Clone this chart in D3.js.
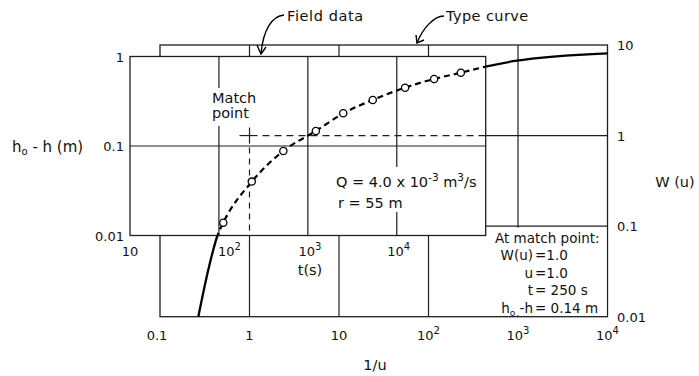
<!DOCTYPE html>
<html>
<head>
<meta charset="utf-8">
<script src="https://cdn.jsdelivr.net/npm/d3@7"></script>
<style>
  body { margin: 0; background: #fff; }
  svg { display: block; font-family: "DejaVu Sans", sans-serif; }
</style>
</head>
<body>
<svg id="chart" width="699" height="376"></svg>
<script>
// Type curve W(u) against 1/u
const typeInvU = [0.268, 0.346, 0.441, 0.509, 1.06, 2.38, 5.48, 11.2, 23.7, 54.5, 115, 228, 434, 922, 10000];
const typeW    = [0.01, 0.0328, 0.0798, 0.109, 0.309, 0.675, 1.12, 1.76, 2.47, 3.38, 4.21, 4.94, 5.76, 6.66, 8.10];

// Field data: drawdown h0-h (m) against time t (s)
const fieldT = [112, 234, 530, 1230, 2500, 5370, 12400, 26300, 52500];
const fieldH = [0.0139, 0.040, 0.088, 0.147, 0.232, 0.327, 0.448, 0.561, 0.659];

// Ticks and labels ([base, superscript])
const typeXTicks  = [0.1, 1, 10, 100, 1000, 10000];
const typeXLabels = [["0.1", ""], ["1", ""], ["10", ""], ["10", "2"], ["10", "3"], ["10", "4"]];
const typeYTicks  = [0.01, 0.1, 1, 10];
const typeYLabels = ["0.01", "0.1", "1", "10"];
const fieldXTicks  = [10, 100, 1000, 10000, 100000];
const fieldXLabels = [["10", ""], ["10", "2"], ["10", "3"], ["10", "4"]];
const fieldYTicks  = [0.01, 0.1, 1];
const fieldYLabels = ["0.01", "0.1", "1"];

// Match point (type curve coords)
const matchInvU = 1, matchW = 1;

const ink = "#1e1e1e";
const svg = d3.select("#chart");

// --- scales ---
const typeX  = d3.scaleLog().domain([0.1, 1e4]).range([160, 607.5]);
const typeY  = d3.scaleLog().domain([0.01, 10]).range([316.7, 45]);
const fieldX = d3.scaleLog().domain([10, 1e5]).range([130, 485.7]);
const fieldY = d3.scaleLog().domain([0.01, 1]).range([235.5, 56.5]);

// --- type curve sheet (behind) ---
const typeG = svg.append("g");
typeG.append("rect")
    .attr("x", typeX(0.1)).attr("y", typeY(10))
    .attr("width", typeX(1e4) - typeX(0.1))
    .attr("height", typeY(0.01) - typeY(10))
    .attr("fill", "#fff").attr("stroke", ink).attr("stroke-width", 1.3);
typeG.selectAll("line.vx").data(typeXTicks.slice(1, -1)).join("line")
    .attr("class", "vx")
    .attr("x1", d => typeX(d)).attr("x2", d => typeX(d))
    .attr("y1", typeY(10)).attr("y2", typeY(0.01))
    .attr("stroke", ink).attr("stroke-width", 1.2);
typeG.selectAll("line.hy").data(typeYTicks.slice(1, -1)).join("line")
    .attr("class", "hy")
    .attr("x1", typeX(0.1)).attr("x2", typeX(1e4))
    .attr("y1", d => typeY(d)).attr("y2", d => typeY(d))
    .attr("stroke", ink).attr("stroke-width", 1.2);

const typePts = typeInvU.map((v, i) => [v, typeW[i]]);
const curveLine = d3.line()
    .x(d => typeX(d[0])).y(d => typeY(d[1]))
    .curve(d3.curveMonotoneX);
typeG.append("path").datum(typePts)
    .attr("d", curveLine)
    .attr("fill", "none").attr("stroke", "#000").attr("stroke-width", 2.3);

// white patch under the match-point note
typeG.append("rect")
    .attr("x", fieldX(1e5) + 2).attr("y", typeY(0.1) + 1.5)
    .attr("width", typeX(1e4) - fieldX(1e5) - 3)
    .attr("height", typeY(0.01) - typeY(0.1) - 3)
    .attr("fill", "#fff");

// --- field data sheet (front) ---
const fieldG = svg.append("g");
fieldG.append("rect")
    .attr("x", fieldX(10)).attr("y", fieldY(1))
    .attr("width", fieldX(1e5) - fieldX(10))
    .attr("height", fieldY(0.01) - fieldY(1))
    .attr("fill", "#fff").attr("stroke", ink).attr("stroke-width", 1.3);
fieldG.selectAll("line.vx").data(fieldXTicks.slice(1, -1)).join("line")
    .attr("class", "vx")
    .attr("x1", d => fieldX(d)).attr("x2", d => fieldX(d))
    .attr("y1", fieldY(1)).attr("y2", fieldY(0.01))
    .attr("stroke", ink).attr("stroke-width", 1.2);
fieldG.selectAll("line.hy").data(fieldYTicks.slice(1, -1)).join("line")
    .attr("class", "hy")
    .attr("x1", fieldX(10)).attr("x2", fieldX(1e5))
    .attr("y1", d => fieldY(d)).attr("y2", d => fieldY(d))
    .attr("stroke", ink).attr("stroke-width", 1.2);

// knock-outs behind the annotations
fieldG.append("rect").attr("x", 208).attr("y", 88).attr("width", 58).attr("height", 38).attr("fill", "#fff");
fieldG.append("rect").attr("x", 330).attr("y", 167).attr("width", 152).attr("height", 45).attr("fill", "#fff");

// match point cross and dashed guides
const mx = typeX(matchInvU), my = typeY(matchW);
fieldG.append("line").attr("x1", mx - 10).attr("x2", mx + 8).attr("y1", my).attr("y2", my)
    .attr("stroke", ink).attr("stroke-width", 1.2);
fieldG.append("line").attr("x1", mx).attr("x2", mx).attr("y1", my - 8).attr("y2", my + 8)
    .attr("stroke", ink).attr("stroke-width", 1.2);
fieldG.append("line").attr("x1", mx + 13).attr("x2", fieldX(1e5)).attr("y1", my).attr("y2", my)
    .attr("stroke", ink).attr("stroke-width", 1.2).attr("stroke-dasharray", "7,5");
fieldG.append("line").attr("x1", mx).attr("x2", mx).attr("y1", my + 12).attr("y2", fieldY(0.01))
    .attr("stroke", ink).attr("stroke-width", 1.2).attr("stroke-dasharray", "6,5");

// dashed type curve seen through the field sheet
svg.append("clipPath").attr("id", "fieldClip").append("rect")
    .attr("x", fieldX(10)).attr("y", fieldY(1))
    .attr("width", fieldX(1e5) - fieldX(10))
    .attr("height", fieldY(0.01) - fieldY(1));
fieldG.append("path").datum(typePts)
    .attr("d", curveLine)
    .attr("clip-path", "url(#fieldClip)")
    .attr("fill", "none").attr("stroke", "#000").attr("stroke-width", 2.2)
    .attr("stroke-dasharray", "6,4");

fieldG.selectAll("circle.obs").data(fieldT.map((t, i) => [t, fieldH[i]])).join("circle")
    .attr("class", "obs")
    .attr("cx", d => fieldX(d[0])).attr("cy", d => fieldY(d[1]))
    .attr("r", 3.6)
    .attr("fill", "#fff").attr("stroke", "#000").attr("stroke-width", 1.3);

// --- text ---
const txt = svg.append("g").attr("fill", "#111").style("font-size", "14.5px");

function supText(sel, base, sup) {
    sel.append("tspan").text(base);
    if (sup) sel.append("tspan").attr("dy", -6).style("font-size", "10px").text(sup);
}

// type axes labels
const numG = txt.append("g").style("font-size", "13px");
typeXTicks.forEach((v, i) => {
    const t = numG.append("text").attr("x", typeX(v) + (i === 0 ? -3 : 0)).attr("y", 340)
        .attr("text-anchor", "middle");
    supText(t, typeXLabels[i][0], typeXLabels[i][1]);
});
typeYTicks.forEach((v, i) => {
    numG.append("text").attr("x", 617).attr("y", typeY(v) + 5).text(typeYLabels[i]);
});
txt.append("text").attr("x", 375).attr("y", 370).attr("text-anchor", "middle").text("1/u");
txt.append("text").attr("x", 675).attr("y", 187).attr("text-anchor", "middle").text("W (u)");

// field axes labels
fieldXLabels.forEach((lab, i) => {
    const v = fieldXTicks[i];
    const t = numG.append("text").attr("y", 256);
    if (i === 1) t.attr("x", fieldX(v) - 1).attr("text-anchor", "start");
    else t.attr("x", fieldX(v) + (lab[1] ? 2 : 0)).attr("text-anchor", "middle");
    supText(t, lab[0], lab[1]);
});
txt.append("text").attr("x", 310).attr("y", 275).attr("text-anchor", "middle").text("t(s)");
fieldYTicks.forEach((v, i) => {
    numG.append("text").attr("x", 124).attr("y", fieldY(v) + 5).attr("text-anchor", "end").text(fieldYLabels[i]);
});
const hLab = txt.append("text").attr("x", 12).attr("y", 152).style("font-size", "15px");
hLab.append("tspan").text("h");
hLab.append("tspan").attr("dy", 3).style("font-size", "10px").text("o");
hLab.append("tspan").attr("dy", -3).text(" - h  (m)");

// match point label
txt.append("text").attr("x", 212).attr("y", 103).text("Match");
txt.append("text").attr("x", 212).attr("y", 118).text("point");

// pumping data
const q = txt.append("text").attr("x", 336).attr("y", 187);
q.append("tspan").text("Q = 4.0 x 10");
q.append("tspan").attr("dy", -6).style("font-size", "10.5px").text("-3");
q.append("tspan").attr("dy", 6).text(" m");
q.append("tspan").attr("dy", -6).style("font-size", "10.5px").text("3");
q.append("tspan").attr("dy", 6).text("/s");
txt.append("text").attr("x", 338).attr("y", 208).text("r = 55 m");

// note at match point
const note = txt.append("g").style("font-size", "13.5px");
note.append("text").attr("x", 495).attr("y", 243).text("At match point:");
const noteRows = [["W(u)", "=1.0"], ["u", "=1.0"], ["t", "= 250 s"], ["h|o|-h", "= 0.14 m"]];
noteRows.forEach((r, i) => {
    const y = 260 + i * 17.5;
    const l = note.append("text").attr("x", 533).attr("y", y).attr("text-anchor", "end");
    if (r[0].includes("|")) {
        const parts = r[0].split("|");
        l.append("tspan").text(parts[0]);
        l.append("tspan").attr("dy", 3).style("font-size", "9px").text(parts[1]);
        l.append("tspan").attr("dy", -3).text(" " + parts[2]);
    } else {
        l.text(r[0]);
    }
    note.append("text").attr("x", 535).attr("y", y).text(r[1]);
});

// sheet callouts
txt.append("text").attr("x", 287).attr("y", 21).attr("letter-spacing", "0.6px").text("Field data");
txt.append("text").attr("x", 446).attr("y", 21).attr("letter-spacing", "0.4px").text("Type curve");

const arrows = svg.append("g").attr("fill", "none").attr("stroke", "#000").attr("stroke-width", 1.4);
arrows.append("path").attr("d", "M284,15 C272,16 263,30 261,54");
arrows.append("path").attr("d", "M257,45 L261,54 L266,47");
arrows.append("path").attr("d", "M444,16 C433,16 422,30 417,43");
arrows.append("path").attr("d", "M416,35 L417,43 L424,40");
</script>
</body>
</html>
